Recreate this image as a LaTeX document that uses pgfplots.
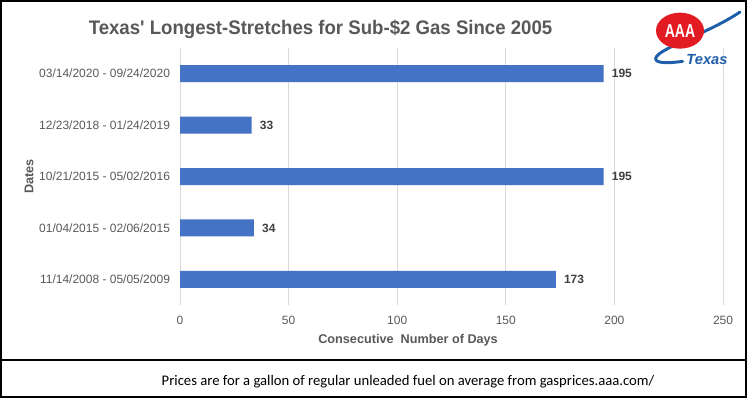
\documentclass[border=0pt]{standalone}
\usepackage{pgfplots}
\pgfplotsset{compat=1.18}
\usepackage{fontspec}
\setmainfont{Liberation Sans}
\newfontfamily\titlefont{Liberation Sans}
\newfontfamily\calibri{Carlito}
\definecolor{barblue}{HTML}{4472C4}
\definecolor{txtgray}{HTML}{595959}
\definecolor{lblgray}{HTML}{404040}
\definecolor{aaared}{HTML}{E31B23}
\definecolor{aaablue}{HTML}{1F5FAA}

\begin{document}
\begin{tikzpicture}
\useasboundingbox (0,0) rectangle (561pt,-300pt);
\fill[white] (0,0) rectangle (561pt,-300pt);
\begin{axis}[
  at={(135pt,-228.75pt)}, anchor=south west,
  scale only axis, width=407.25pt, height=192.75pt,
  xbar, bar width=12.75pt,
  xmin=0, xmax=250, ymin=-0.5, ymax=4.5,
  xtick={0,50,...,250},
  ytick={0,...,4},
  yticklabels={11/14/2008 - 05/05/2009, 01/04/2015 - 02/06/2015, 10/21/2015 - 05/02/2016, 12/23/2018 - 01/24/2019, 03/14/2020 - 09/24/2020},
  xmajorgrids, grid style={draw=black!15, line width=0.75pt},
  axis line style={draw=none},
  major tick length=0pt,
  tick label style={font=\fontsize{9}{10}\selectfont, text=txtgray},
  /pgf/number format/assume math mode=true,
  xticklabel style={yshift=-4.5pt},
  yticklabel style={xshift=-4pt},
  nodes near coords,
  nodes near coords style={font=\bfseries\fontsize{9}{10}\selectfont, text=lblgray, xshift=2.7pt},
  xlabel={Consecutive\ \ Number of Days},
  xlabel style={at={(axis description cs:0.42,-0.136)}, anchor=center, font=\bfseries\fontsize{9.5}{11}\selectfont, text=txtgray},
  ylabel={Dates},
  ylabel style={at={(axis description cs:-0.278,0.5)}, anchor=center, font=\bfseries\fontsize{9.5}{11}\selectfont, text=txtgray},
]
\addplot[fill=barblue, draw=none] coordinates {
(173,0)
(34,1)
(195,2)
(33,3)
(195,4)
};
\end{axis}
% title
\node[anchor=base, font=\titlefont\bfseries\fontsize{14.7}{16}\selectfont, text=txtgray] at (240.4pt,-26pt) {\scalebox{0.95}[1]{Texas' Longest-Stretches for Sub-\$2 Gas Since 2005}};
% logo
\draw[aaablue, line width=2.2pt, line cap=round] (555pt,-9pt) .. controls (530pt,-26pt) and (488pt,-38pt) .. (492pt,-45pt) .. controls (494pt,-48pt) and (505pt,-47pt) .. (512pt,-46pt);
\fill[aaared] (510pt,-23pt) ellipse [x radius=18pt, y radius=13.5pt];
\node[font=\bfseries\fontsize{14}{15}\selectfont, text=white] at (510pt,-23pt) {\scalebox{0.75}[1]{AAA}};
\node[font=\bfseries\itshape\fontsize{11}{12}\selectfont, text=aaablue] at (530.25pt,-44.5pt) {Texas};
% frame and footer
\draw[line width=1.5pt] (0.75pt,-0.75pt) rectangle (559.5pt,-297.75pt);
\draw[line width=1.5pt] (0.75pt,-270pt) -- (559.5pt,-270pt);
\node[anchor=base, font=\calibri\fontsize{11}{12}\selectfont] at (306pt,-289pt) {Prices are for a gallon of regular unleaded fuel on average from gasprices.aaa.com/};
\end{tikzpicture}
\end{document}
